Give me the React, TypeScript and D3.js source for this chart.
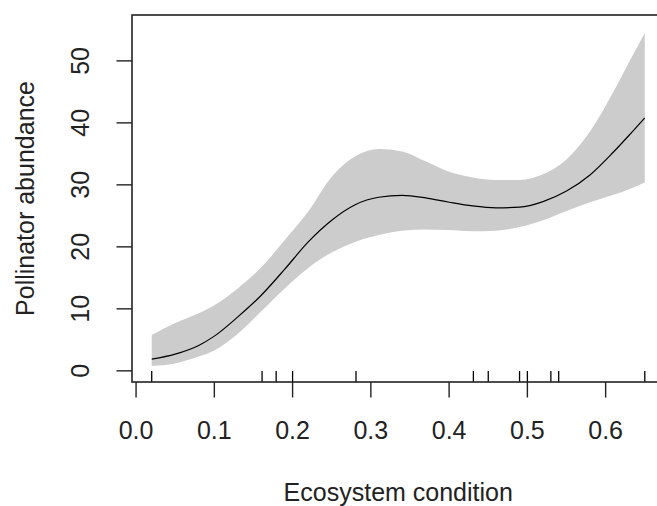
import * as d3 from 'd3';

// smooth (GAM-style) fit of pollinator abundance vs ecosystem condition
const gridX = [0.02, 0.05, 0.08, 0.10, 0.13, 0.16, 0.19, 0.22, 0.25, 0.28, 0.31, 0.34, 0.37, 0.40, 0.43, 0.46, 0.49, 0.52, 0.55, 0.58, 0.61, 0.63, 0.65];
const fitValues = [1.9, 2.7, 4.1, 5.6, 8.7, 12.2, 16.4, 20.8, 24.3, 26.8, 28.0, 28.3, 27.9, 27.2, 26.6, 26.3, 26.4, 27.3, 29.0, 31.6, 35.3, 38.0, 40.8];
const upperValues = [5.8, 7.7, 9.3, 10.6, 13.3, 16.7, 21.1, 25.7, 31.3, 34.6, 35.8, 35.4, 33.8, 32.1, 31.2, 30.8, 30.8, 31.7, 34.1, 38.6, 45.0, 49.8, 54.5];
const lowerValues = [0.8, 1.2, 2.3, 3.3, 6.0, 9.6, 13.3, 16.6, 19.1, 20.8, 21.9, 22.6, 22.8, 22.7, 22.5, 22.6, 23.2, 24.3, 25.8, 27.2, 28.4, 29.3, 30.4];

// observed x values shown as a rug
const rugX = [0.02, 0.161, 0.179, 0.2, 0.281, 0.431, 0.45, 0.49, 0.5, 0.53, 0.54, 0.65];

const xTicks = [0, 0.1, 0.2, 0.3, 0.4, 0.5, 0.6];
const yTicks = [0, 10, 20, 30, 40, 50];

const W = 657;
const H = 506;
const FONT = '"Liberation Sans", Arial, sans-serif';

export default function App() {
  // plot region (right edge runs past the picture, as in the original)
  const left = 132;
  const right = 664.5;
  const top = 15;
  const bottom = 382;

  const x = d3.scaleLinear().domain([-0.0052, 0.6752]).range([left, right]);
  const y = d3.scaleLinear().domain([-1.8, 57.4]).range([bottom, top]);

  const rows = gridX.map((gx, i) => ({ x: gx, fit: fitValues[i], lo: lowerValues[i], hi: upperValues[i] }));

  const band = d3.area<any>()
    .x(d => x(d.x))
    .y0(d => y(d.lo))
    .y1(d => y(d.hi))
    .curve(d3.curveMonotoneX);

  const line = d3.line<any>()
    .x(d => x(d.x))
    .y(d => y(d.fit))
    .curve(d3.curveMonotoneX);

  const tickLen = 15.5;
  const rugLen = 0.03 * (bottom - top);

  return (
    <div style={{ position: 'absolute', left: 0, top: 0 }}>
      <svg width={W} height={H} style={{ display: 'block', background: '#fff' }}>
        <path d={band(rows) || ''} fill="#cccccc" stroke="none" />
        <path d={line(rows) || ''} fill="none" stroke="#000" strokeWidth={1.2} />

        {rugX.map((r, i) => (
          <line key={'r' + i} x1={x(r)} x2={x(r)} y1={bottom} y2={bottom - rugLen} stroke="#000" strokeWidth={1.3} />
        ))}

        <rect x={left} y={top} width={right - left} height={bottom - top} fill="none" stroke="#222" strokeWidth={1.6} />

        {/* x axis */}
        {xTicks.map(t => (
          <g key={'x' + t}>
            <line x1={x(t)} x2={x(t)} y1={bottom} y2={bottom + tickLen} stroke="#222" strokeWidth={1.4} />
            <text x={x(t)} y={439} textAnchor="middle" fontFamily={FONT} fontSize={25} fill="#222">
              {d3.format('.1f')(t)}
            </text>
          </g>
        ))}

        {/* y axis */}
        {yTicks.map(t => (
          <g key={'y' + t}>
            <line x1={left} x2={left - tickLen} y1={y(t)} y2={y(t)} stroke="#222" strokeWidth={1.4} />
            <text transform={`translate(89,${y(t)}) rotate(-90)`} textAnchor="middle" fontFamily={FONT} fontSize={25} fill="#222">
              {t}
            </text>
          </g>
        ))}

        <text x={(left + right) / 2} y={501} textAnchor="middle" fontFamily={FONT} fontSize={25} fill="#222">
          Ecosystem condition
        </text>
        <text transform={`translate(34,${(top + bottom) / 2}) rotate(-90)`} textAnchor="middle" fontFamily={FONT} fontSize={25} fill="#222">
          Pollinator abundance
        </text>
      </svg>
    </div>
  );
}
